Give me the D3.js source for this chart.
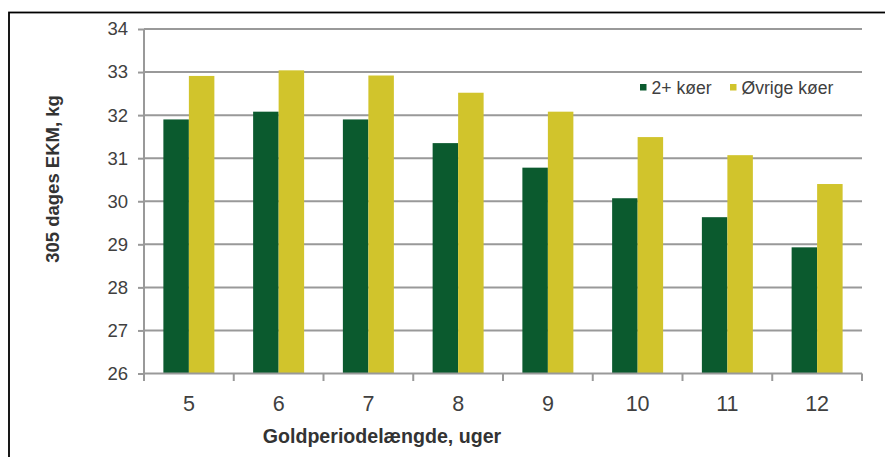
<!DOCTYPE html>
<html>
<head>
<meta charset="utf-8">
<script src="https://cdn.jsdelivr.net/npm/d3@7"></script>
<style>
  html, body { margin: 0; padding: 0; background: #fff; }
  svg { display: block; font-family: "Liberation Sans", Arial, sans-serif; }
</style>
</head>
<body>
<svg id="chart" width="885" height="457"></svg>
<script>
const categories = ["5", "6", "7", "8", "9", "10", "11", "12"];
const seriesNames = ["2+ køer", "Øvrige køer"];
const seriesColors = ["#0b5a2e", "#d1c42c"];
const values2plus = [31.90, 32.08, 31.90, 31.35, 30.78, 30.07, 29.63, 28.93];
const valuesOther = [32.91, 33.04, 32.92, 32.52, 32.08, 31.49, 31.07, 30.40];
const yTicks = [26, 27, 28, 29, 30, 31, 32, 33, 34];
const yTitle = "305 dages EKM, kg";
const xTitle = "Goldperiodelængde, uger";

(function () {
const svg = d3.select("#chart");
const pLeft = 144, pRight = 862, pTop = 29, pBottom = 373.5;
const gridColor = "#999999";
const textColor = "#404040";

// frame
svg.append("rect").attr("x", 9).attr("y", 12.5).attr("width", 1000).attr("height", 1000)
  .attr("fill", "none").attr("stroke", "#000").attr("stroke-width", 1.8);

const x0 = d3.scaleBand().domain(categories).range([pLeft, pRight]).paddingInner(0).paddingOuter(0);
const x1 = d3.scaleBand().domain(seriesNames).range([0, x0.bandwidth()]).paddingInner(0).paddingOuter(0.76);
const y = d3.scaleLinear().domain([26, 34]).range([pBottom, pTop]);

// gridlines
svg.append("g").selectAll("line").data(yTicks.filter(t => t > 26)).join("line")
  .attr("x1", pLeft).attr("x2", pRight)
  .attr("y1", d => y(d)).attr("y2", d => y(d))
  .attr("stroke", gridColor).attr("stroke-width", 2);

// bars
const data = categories.map((c, i) => ({ c, vals: [values2plus[i], valuesOther[i]] }));
const groups = svg.append("g").selectAll("g").data(data).join("g")
  .attr("transform", d => `translate(${x0(d.c)},0)`);
groups.selectAll("rect").data(d => d.vals.map((v, j) => ({ v, s: seriesNames[j], j }))).join("rect")
  .attr("x", d => x1(d.s))
  .attr("width", x1.bandwidth())
  .attr("y", d => y(d.v))
  .attr("height", d => y(26) - y(d.v))
  .attr("fill", d => seriesColors[d.j]);

// y axis
const yAxis = d3.axisLeft(y).tickValues(yTicks).tickFormat(d3.format("d")).tickSize(6).tickPadding(10);
const gy = svg.append("g").attr("transform", `translate(${pLeft},0)`).call(yAxis);
gy.select(".domain").attr("stroke", gridColor).attr("stroke-width", 2).attr("d", `M0,${pTop}V${pBottom}`);
gy.selectAll(".tick line").attr("stroke", gridColor).attr("stroke-width", 2);
gy.selectAll(".tick text").attr("fill", textColor).attr("font-size", 18.5)
  .attr("font-family", "Liberation Sans, Arial, sans-serif");

// x axis
const gx = svg.append("g").attr("transform", `translate(0,${pBottom})`);
gx.append("line").attr("x1", pLeft).attr("x2", pRight).attr("y1", 0).attr("y2", 0)
  .attr("stroke", gridColor).attr("stroke-width", 2);
const boundaries = categories.map(c => x0(c)).concat([x0(categories[categories.length - 1]) + x0.bandwidth()]);
gx.selectAll("line.tk").data(boundaries).join("line").attr("class", "tk")
  .attr("x1", d => d).attr("x2", d => d).attr("y1", 0).attr("y2", 7.5)
  .attr("stroke", gridColor).attr("stroke-width", 2);
gx.selectAll("text").data(categories).join("text")
  .attr("x", d => x0(d) + x0.bandwidth() / 2)
  .attr("y", 37.5)
  .attr("text-anchor", "middle")
  .attr("fill", textColor).attr("font-size", 21.5)
  .text(d => d);

// titles
svg.append("text").attr("transform", "translate(59,179) rotate(-90)")
  .attr("text-anchor", "middle").attr("font-weight", "bold").attr("font-size", 18.5)
  .attr("fill", "#333").text(yTitle);
svg.append("text").attr("x", 382).attr("y", 443)
  .attr("text-anchor", "middle").attr("font-weight", "bold").attr("font-size", 19.6)
  .attr("fill", "#333").text(xTitle);

// legend
const legendX = [640, 730];
const lg = svg.append("g").selectAll("g").data(seriesNames).join("g")
  .attr("transform", (d, i) => `translate(${legendX[i]},0)`);
lg.append("rect").attr("x", 0).attr("y", 84).attr("width", 6.5).attr("height", 6.5)
  .attr("fill", (d, i) => seriesColors[i]);
lg.append("text").attr("x", 11.5).attr("y", 93.5).attr("font-size", 17.6)
  .attr("fill", textColor).text(d => d);
})();
</script>
</body>
</html>
